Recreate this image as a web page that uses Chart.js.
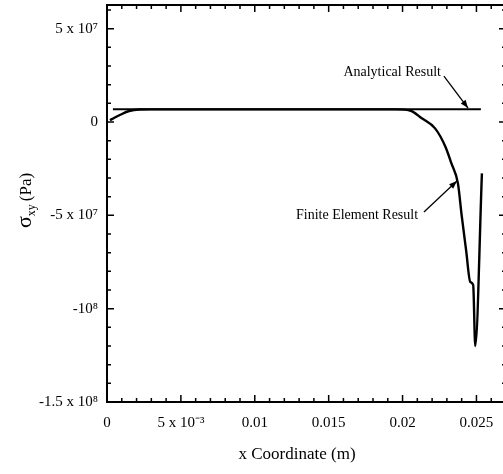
<!DOCTYPE html>
<html>
<head>
<meta charset="utf-8">
<script src="https://cdn.jsdelivr.net/npm/chart.js@4.4.0/dist/chart.umd.min.js"></script>
<style>
  html, body { margin: 0; padding: 0; background: #fff; overflow: hidden; }
  #wrap { width: 506px; height: 474px; position: relative; }
</style>
</head>
<body>
<div id="wrap"><canvas id="stressChart"></canvas></div>
<script>
// axis ticks
const xTicks = [0, 0.005, 0.01, 0.015, 0.02, 0.025];
const xTickLabels = ["0", "5 x 10\u207B\u00B3", "0.01", "0.015", "0.02", "0.025"];
const yTicks = [-1.5e8, -1e8, -5e7, 0, 5e7];
const yTickLabels = ["-1.5 x 10\u2078", "-10\u2078", "-5 x 10\u2077", "0", "5 x 10\u2077"];

// analytical result (constant shear stress)
const analyticalX = [0.0004, 0.0253];
const analyticalY = [6.8e6, 6.8e6];

// finite element result
const feX = [0.0002, 0.0005, 0.0009, 0.0015, 0.0022, 0.003, 0.005, 0.01, 0.015, 0.0195,
  0.0205, 0.0213, 0.0222, 0.0229, 0.0233, 0.02375, 0.024, 0.0243, 0.02458, 0.02478, 0.02492, 0.02537];
const feY = [1.0e6, 2.3e6, 3.9e6, 5.9e6, 6.7e6, 6.8e6, 6.8e6, 6.8e6, 6.8e6, 6.8e6,
  6.2e6, 2.0e6, -3.4e6, -1.32e7, -2.2e7, -3.3e7, -5.0e7, -6.86e7, -8.56e7, -8.74e7, -1.2e8, -2.75e7];

// callouts: label anchor (right end), arrow tail, arrow tip
const calloutText = ["Analytical Result", "Finite Element Result"];
const calloutLabelAt = [[0.0226, 2.46e7], [0.02105, -4.98e7]];
const calloutTail = [[0.0228, 2.46e7], [0.02145, -4.82e7]];
const calloutTip = [[0.02443, 7.5e6], [0.02368, -3.16e7]];

const X_MIN = 0, X_MAX = 0.027;
const Y_MIN = -1.5e8, Y_MAX = 6.27e7;
const SERIF = "'Liberation Serif', 'Times New Roman', serif";

function toPoints(xs, ys) {
  return xs.map((x, i) => ({ x: x, y: ys[i] }));
}

function drawArrow(ctx, x1, y1, x2, y2) {
  ctx.beginPath();
  ctx.moveTo(x1, y1);
  ctx.lineTo(x2, y2);
  ctx.stroke();
  const a = Math.atan2(y2 - y1, x2 - x1);
  const len = 8, w = 3;
  ctx.beginPath();
  ctx.moveTo(x2, y2);
  ctx.lineTo(x2 - len * Math.cos(a) + w * Math.sin(a), y2 - len * Math.sin(a) - w * Math.cos(a));
  ctx.lineTo(x2 - len * Math.cos(a) - w * Math.sin(a), y2 - len * Math.sin(a) + w * Math.cos(a));
  ctx.closePath();
  ctx.fill();
}

const framePlugin = {
  id: "frame",
  afterDatasetsDraw(chart) {
    const { ctx, chartArea: ca, scales } = chart;
    const xs = scales.x, ys = scales.y;
    ctx.save();
    ctx.strokeStyle = "#000";
    ctx.fillStyle = "#000";

    // box
    ctx.lineWidth = 2;
    ctx.strokeRect(ca.left, ca.top, ca.right - ca.left, ca.bottom - ca.top);

    // inward ticks
    ctx.lineWidth = 1.5;
    ctx.beginPath();
    for (let i = 0; i <= 26; i++) {
      const px = xs.getPixelForValue(i * 0.001);
      const len = i % 5 === 0 ? 7 : 4;
      ctx.moveTo(px, ca.bottom);
      ctx.lineTo(px, ca.bottom - len);
      ctx.moveTo(px, ca.top);
      ctx.lineTo(px, ca.top + len);
    }
    for (let i = -15; i <= 6; i++) {
      const py = ys.getPixelForValue(i * 1e7);
      const len = i % 5 === 0 ? 7 : 4;
      ctx.moveTo(ca.left, py);
      ctx.lineTo(ca.left + len, py);
      ctx.moveTo(ca.right, py);
      ctx.lineTo(ca.right - len, py);
    }
    ctx.stroke();

    // callouts
    ctx.lineWidth = 1.3;
    ctx.font = "14px " + SERIF;
    ctx.textAlign = "right";
    calloutText.forEach((t, i) => {
      const lx = xs.getPixelForValue(calloutLabelAt[i][0]);
      const ly = ys.getPixelForValue(calloutLabelAt[i][1]);
      ctx.textBaseline = i === 0 ? "alphabetic" : "middle";
      ctx.fillText(t, lx, ly);
      drawArrow(ctx,
        xs.getPixelForValue(calloutTail[i][0]), ys.getPixelForValue(calloutTail[i][1]),
        xs.getPixelForValue(calloutTip[i][0]), ys.getPixelForValue(calloutTip[i][1]));
    });

    // x axis title
    ctx.textAlign = "center";
    ctx.textBaseline = "alphabetic";
    ctx.font = "17px " + SERIF;
    ctx.fillText("x Coordinate (m)", 297, 459);

    // y axis title with subscript
    ctx.translate(31, 228);
    ctx.rotate(-Math.PI / 2);
    ctx.textAlign = "left";
    ctx.font = "22px " + SERIF;
    ctx.fillText("\u03C3", 0, 0);
    let off = ctx.measureText("\u03C3").width;
    ctx.font = "12px " + SERIF;
    ctx.fillText("xy", off, 4);
    off += ctx.measureText("xy").width + 3;
    ctx.font = "17px " + SERIF;
    ctx.fillText("(Pa)", off, 0);
    ctx.restore();
  }
};

const ctx = document.getElementById("stressChart").getContext("2d");
const stressChart = new Chart(ctx, {
  type: "scatter",
  data: {
    datasets: [
      {
        label: "Analytical Result",
        data: toPoints(analyticalX, analyticalY),
        showLine: true,
        borderColor: "#000",
        borderWidth: 2,
        pointRadius: 0,
      },
      {
        label: "Finite Element Result",
        data: toPoints(feX, feY),
        showLine: true,
        borderColor: "#000",
        borderWidth: 2.4,
        pointRadius: 0,
        cubicInterpolationMode: "monotone",
      },
    ],
  },
  options: {
    responsive: true,
    maintainAspectRatio: false,
    animation: false,
    layout: { padding: { top: 5, left: 0, right: 0, bottom: 0 } },
    plugins: { legend: { display: false }, tooltip: { enabled: false } },
    scales: {
      x: {
        type: "linear",
        min: X_MIN,
        max: X_MAX,
        grid: { display: false, drawTicks: false },
        border: { display: false },
        afterBuildTicks: (scale) => { scale.ticks = xTicks.map((v) => ({ value: v })); },
        afterFit: (scale) => {
          scale.height = 72;
          scale.paddingLeft = 0;
          scale.paddingRight = 0;
        },
        ticks: {
          color: "#000",
          padding: 12,
          maxRotation: 0,
          autoSkip: false,
          font: { family: SERIF, size: 15 },
          callback: (v) => xTickLabels[xTicks.indexOf(v)],
        },
      },
      y: {
        type: "linear",
        min: Y_MIN,
        max: Y_MAX,
        grid: { display: false, drawTicks: false },
        border: { display: false },
        afterBuildTicks: (scale) => { scale.ticks = yTicks.map((v) => ({ value: v })); },
        afterFit: (scale) => {
          scale.width = 107;
          scale.paddingTop = 0;
          scale.paddingBottom = 0;
        },
        ticks: {
          color: "#000",
          padding: 9,
          autoSkip: false,
          font: { family: SERIF, size: 15 },
          callback: (v) => yTickLabels[yTicks.indexOf(v)],
        },
      },
    },
  },
  plugins: [framePlugin],
});
</script>
</body>
</html>
